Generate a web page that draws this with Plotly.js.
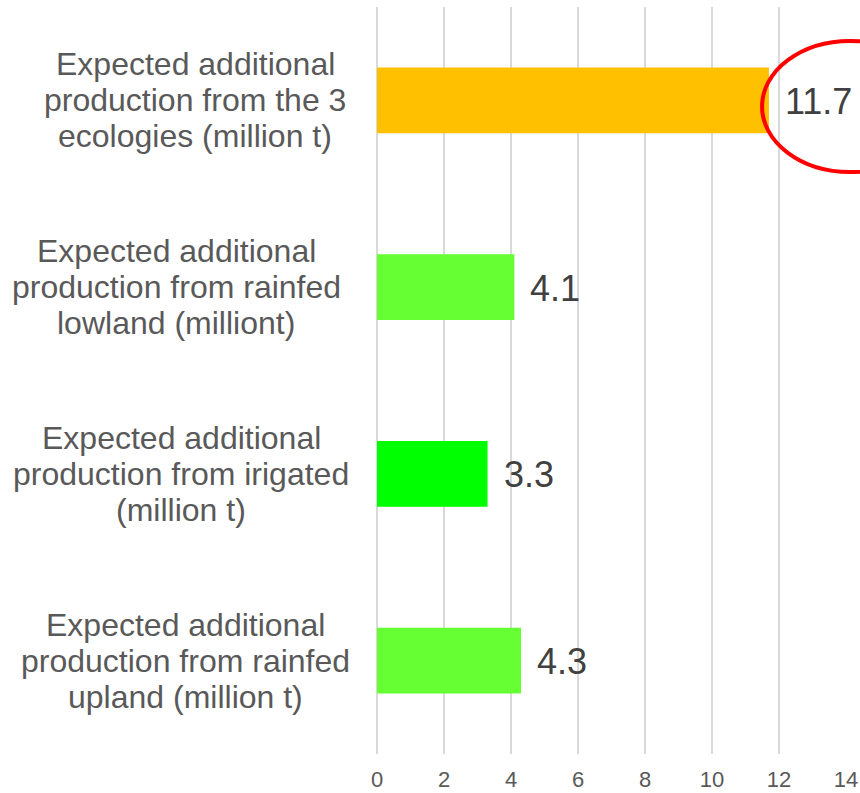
<!DOCTYPE html>
<html>
<head>
<meta charset="utf-8">
<script src="https://cdn.plot.ly/plotly-3.0.1.min.js"></script>
<style>html,body{margin:0;padding:0;background:#fff;}#chart{width:860px;height:793px;}</style>
</head>
<body>
<div id="chart"></div>
<script>
// Data (top to bottom)
var categories = ['3 ecologies', 'rainfed lowland', 'irrigated', 'rainfed upland'];
var categoryLabels = [
  ['Expected additional', 'production from the 3', 'ecologies (million t)'],
  ['Expected additional', 'production from rainfed', 'lowland (milliont)'],
  ['Expected additional', 'production from irigated', '(million t)'],
  ['Expected additional', 'production from rainfed', 'upland (million t)']
];
var values = [11.7, 4.1, 3.3, 4.3];
var valueLabels = ['11.7', '4.1', '3.3', '4.3'];
var barColors = ['#FFC000', '#66FF33', '#00FF00', '#66FF33'];
var xTicks = [0, 2, 4, 6, 8, 10, 12, 14];

// layout constants
var FONT = '"Liberation Sans", Arial, sans-serif';
var PLOT_LEFT = 377, PLOT_WIDTH = 469;
var labelCenterPx = [195, 176, 181, 185];

var annotations = [];
categories.forEach(function (c, i) {
  var lines = categoryLabels[i];
  var n = lines.length;
  lines.forEach(function (line, j) {
    annotations.push({
      xref: 'paper', yref: 'y',
      x: (labelCenterPx[i] - PLOT_LEFT) / PLOT_WIDTH, y: c,
      xanchor: 'center', yanchor: 'middle',
      yshift: ((n - 1) / 2 - j) * 36,
      text: line, showarrow: false,
      font: {family: FONT, size: 32, color: '#595959'}
    });
  });
  annotations.push({
    xref: 'x', yref: 'y',
    x: values[i], y: c,
    xanchor: 'left', yanchor: 'middle',
    xshift: 14, yshift: -1,
    text: valueLabels[i], showarrow: false,
    font: {family: FONT, size: 36, color: '#404040'}
  });
});

var trace = {
  type: 'bar',
  orientation: 'h',
  x: values,
  y: categories,
  width: 0.353,
  marker: {color: barColors},
  hoverinfo: 'skip'
};

var layout = {
  width: 860, height: 793,
  margin: {l: 377, r: 14, t: 7, b: 39},
  paper_bgcolor: '#ffffff',
  plot_bgcolor: '#ffffff',
  showlegend: false,
  font: {family: FONT},
  xaxis: {
    range: [0, 14],
    tickvals: xTicks,
    ticktext: xTicks.map(String),
    showgrid: true, gridcolor: '#D9D9D9', gridwidth: 1.5,
    zeroline: true, zerolinecolor: '#D9D9D9', zerolinewidth: 1.5,
    showline: false,
    ticks: 'outside', ticklen: 6, tickcolor: 'rgba(0,0,0,0)',
    tickfont: {family: FONT, size: 22, color: '#595959'},
    fixedrange: true
  },
  yaxis: {
    type: 'category',
    autorange: 'reversed',
    showticklabels: false,
    showgrid: false, zeroline: false, showline: false,
    ticks: '',
    fixedrange: true
  },
  annotations: annotations,
  shapes: [{
    type: 'circle', xref: 'paper', yref: 'paper',
    x0: 0.821, x1: 1.196, y0: 0.779, y1: 0.9545,
    line: {color: '#FF0000', width: 4},
    fillcolor: 'rgba(0,0,0,0)',
    layer: 'above'
  }]
};

Plotly.newPlot('chart', [trace], layout, {displayModeBar: false, staticPlot: true});
</script>
</body>
</html>
